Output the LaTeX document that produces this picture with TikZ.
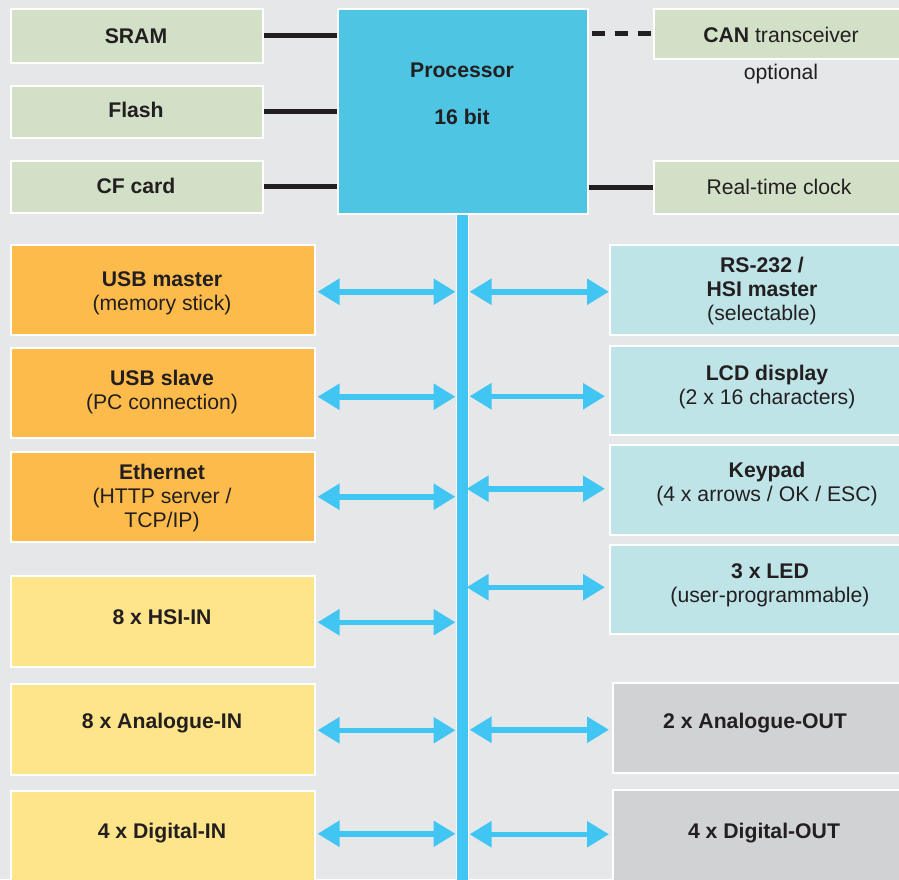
\documentclass[tikz,border=0pt]{standalone}
\usepackage{fontspec}
\setmainfont{Liberation Sans}
\usetikzlibrary{arrows.meta,calc}
\definecolor{bg}{HTML}{E6E7E9}
\definecolor{mem}{HTML}{D3E0C8}
\definecolor{proc}{HTML}{4EC5E2}
\definecolor{orng}{HTML}{FDBB4B}
\definecolor{yell}{HTML}{FEE589}
\definecolor{lcyan}{HTML}{BEE4E8}
\definecolor{lgray}{HTML}{D1D2D4}
\definecolor{abl}{HTML}{41C6F4}
\definecolor{ink}{HTML}{231F20}
\tikzset{
  box/.style={draw=white, line width=1.5pt, inner sep=0pt, anchor=north west},
  txt/.style={align=center, inner sep=0pt, text=ink, font=\fontsize{21.2}{24}\selectfont},
  btxt/.style={txt, font=\bfseries\fontsize{21.2}{24}\selectfont},
  biarrow/.style={draw=abl, line width=5.5pt, {Triangle[length=22pt,width=25pt]}-{Triangle[length=22pt,width=25pt]}},
  wire/.style={draw=ink, line width=5pt},
  dwire/.style={draw=ink, line width=5pt, dash pattern=on 13pt off 10pt}
}
\newcommand\bx[6]{\node[box, fill=#6, minimum width={#4-#2}, minimum height={#5-#3}] (#1) at (#2,#3) {};}
\begin{document}
\begin{tikzpicture}[x=1pt,y=-1pt]
\useasboundingbox (0,0) rectangle (899,879);
\clip (0,0) rectangle (899,879);
\fill[bg] (0,0) rectangle (899,879);
% memory + processor
\bx{sram}{10}{8}{262}{62}{mem}
\bx{flash}{10}{85}{262}{137}{mem}
\bx{cf}{10}{160}{262}{212}{mem}
\bx{proc}{337}{8}{587}{213}{proc}
\bx{can}{653}{8}{930}{58}{mem}
\bx{rtc}{653}{160}{930}{213}{mem}
\node[btxt] (tsram) at (136,36) {SRAM};
\node[btxt] (tflash) at (136,110) {Flash};
\node[btxt] (tcf) at (136,186) {CF card};
\node[btxt] (tproc1) at (462,70) {Processor};
\node[btxt] (tproc2) at (462,117) {16 bit};
\node[txt] (tcan) at (781,35) {\textbf{CAN} transceiver};
\node[txt] (topt) at (781,74) {optional};
\node[txt] (trtc) at (779,187) {Real-time clock};
\draw[wire] (sram.east) -- (proc.west |- sram.east);
\draw[wire] (flash.east) -- (proc.west |- flash.east);
\draw[wire] (cf.east) -- (proc.west |- cf.east);
\draw[dwire] ($(proc.east |- can.west)+(3,0)$) -- (can.west);
\draw[wire] (proc.east |- rtc.west) -- (rtc.west);
% bus
\node[box, fill=abl, line width=1pt, minimum width=12, minimum height=700, anchor=north] (bus) at (462,213.5) {};
% left boxes
\bx{usbm}{10}{244}{314}{334}{orng}
\bx{usbs}{10}{347}{314}{437}{orng}
\bx{eth}{10}{451}{314}{541}{orng}
\bx{hsi}{10}{575}{314}{666}{yell}
\bx{ain}{10}{683}{314}{774}{yell}
\bx{din}{10}{790}{314}{900}{yell}
% right boxes
\bx{rs}{609}{244}{930}{334}{lcyan}
\bx{lcd}{609}{345}{930}{434}{lcyan}
\bx{key}{609}{444}{930}{534}{lcyan}
\bx{led}{609}{544}{930}{633}{lcyan}
\bx{aout}{612}{682}{930}{772}{lgray}
\bx{dout}{612}{789}{930}{900}{lgray}
% texts
\node[txt] (t1) at (162,293) {\textbf{USB master}\\(memory stick)};
\node[txt] (t2) at (162,392) {\textbf{USB slave}\\(PC connection)};
\node[txt] (t3) at (162,498) {\textbf{Ethernet}\\(HTTP server /\\TCP/IP)};
\node[btxt] (t4) at (162,617) {8 x HSI-IN};
\node[btxt] (t5) at (162,723) {8 x Analogue-IN};
\node[btxt] (t6) at (162,833) {4 x Digital-IN};
\node[txt] (t7) at (762,291) {\textbf{RS-232 /}\\\textbf{HSI master}\\(selectable)};
\node[txt] (t8) at (767,387) {\textbf{LCD display}\\(2 x 16 characters)};
\node[txt] (t9) at (767,484) {\textbf{Keypad}\\(4 x arrows / OK / ESC)};
\node[txt] (t10) at (770,585) {\textbf{3 x LED}\\(user-programmable)};
\node[btxt] (t11) at (755,723) {2 x Analogue-OUT};
\node[btxt] (t12) at (764,833) {4 x Digital-OUT};
% arrows left
\draw[biarrow] ($(usbm.east)+(2,2)$) -- ($(bus.west |- usbm.east)+(0,2)$);
\draw[biarrow] ($(usbs.east)+(2,4)$) -- ($(bus.west |- usbs.east)+(0,4)$);
\draw[biarrow] ($(eth.east)+(2,0)$) -- (bus.west |- eth.east);
\draw[biarrow] ($(hsi.east)+(2,1)$) -- ($(bus.west |- hsi.east)+(0,1)$);
\draw[biarrow] ($(ain.east)+(2,1)$) -- ($(bus.west |- ain.east)+(0,1)$);
\draw[biarrow] ($(din.east)+(2,-12)$) -- ($(bus.west |- din.east)+(0,-12)$);
% arrows right
\draw[biarrow] ($(bus.east |- rs.west)+(1,2)$) -- ($(rs.west)+(0,2)$);
\draw[biarrow] ($(bus.east |- lcd.west)+(1,6)$) -- ($(lcd.west)+(-4,6)$);
\draw[biarrow] ($(bus.east |- key.west)+(-2,-1)$) -- ($(key.west)+(-4,-1)$);
\draw[biarrow] ($(bus.east |- led.west)+(-2,-2)$) -- ($(led.west)+(-4,-2)$);
\draw[biarrow] ($(bus.east |- aout.west)+(1,2)$) -- ($(aout.west)+(-3,2)$);
\draw[biarrow] ($(bus.east |- dout.west)+(1,-11)$) -- ($(dout.west)+(-3,-11)$);
\end{tikzpicture}
\end{document}
